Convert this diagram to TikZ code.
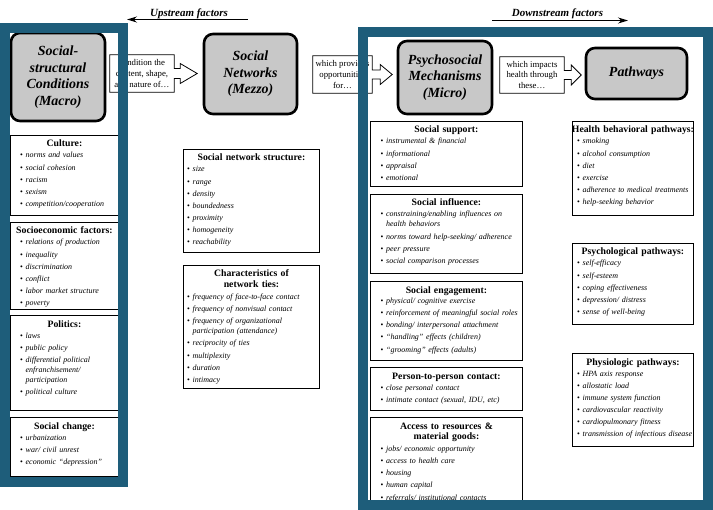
\documentclass[tikz,border=0pt]{standalone}
\usepackage{fontspec}
\setmainfont{Liberation Serif}
\usetikzlibrary{arrows.meta,calc}
\definecolor{frameblue}{RGB}{30,93,122}
\definecolor{hdrgray}{RGB}{200,200,200}
\newif\iffirstitm
\newcommand{\itm}[1]{\iffirstitm\global\firstitmfalse\else\par\fi\noindent\hangindent=5.5bp\hangafter=1\makebox[5.5bp][l]{\textbullet}\textit{#1}}
\tikzset{
  every node/.style={inner sep=0pt},
  hdr/.style={draw, line width=2.6bp, rounded corners=9bp, fill=hdrgray, align=center,
    font=\fontsize{14}{16.5}\selectfont\bfseries\itshape},
  callout/.style={align=center, font=\fontsize{8.8}{11}\selectfont},
  callarrow/.style={draw, line width=0.8bp},
  cbox/.style={draw, line width=0.9bp, fill=white, anchor=north west},
  ctitle/.style={anchor=base, align=center, font=\fontsize{9.8}{11}\selectfont\bfseries},
  citems/.style={anchor=base west, align=left, text width=250bp,
    font=\fontsize{8}{10}\selectfont, execute at begin node={\setlength{\parskip}{2.2bp}\global\firstitmtrue}},
  flow/.style={anchor=base, font=\fontsize{11}{13}\selectfont\bfseries\itshape},
  flowline/.style={line width=1.1bp, -{Stealth[length=10bp,width=6bp]}},
  frame/.style={draw=frameblue, line width=10bp},
}
% name, x1, y1, x2, y2, bullet offset, title, items offset, items
\newcommand{\Cbox}[9]{%
  \node[cbox, minimum width={(#4-#2)*1bp}, minimum height={(#5-#3)*1bp}] (#1) at (#2,#3) {};
  \node[ctitle, text width={(#4-#2+20)*1bp}] (#1-t) at ($(#1.north)+(0,12)$) {#7};
  \node[citems] (#1-i) at ($(#1.north west)+(#6,#8)$) {#9};
}
% name, shaft half, shaft length, head half, head length
\newcommand{\Barrow}[5]{%
  \draw[callarrow] (#1.north west) -- (#1.north east) -- ($(#1.east)+(0,-#2)$)
    -- ($(#1.east)+(#3,-#2)$) -- ($(#1.east)+(#3,-#4)$) -- ($(#1.east)+(#3+#5,0)$)
    -- ($(#1.east)+(#3,#4)$) -- ($(#1.east)+(#3,#2)$) -- ($(#1.east)+(0,#2)$)
    -- (#1.south east) -- (#1.south west) -- cycle;
}
\begin{document}
\begin{tikzpicture}[x=1bp,y=-1bp]
\useasboundingbox[fill=white] (0,0) rectangle (713,510);

% flow labels
\node[flow] (upt) at (189,16.5) {Upstream factors};
\coordinate (upA) at (248,19.5);
\coordinate (upB) at (127,19.5);
\draw[flowline] (upA) -- (upB);
\node[flow] (dnt) at (557.5,16.5) {Downstream factors};
\coordinate (dnA) at (492,20.5);
\coordinate (dnB) at (628,20.5);
\draw[flowline] (dnA) -- (dnB);

% header boxes
\node[hdr, minimum width=94bp, minimum height=88bp] (macro) at (58,77) {Social-\\structural\\Conditions\\(Macro)};
\node[hdr, minimum width=93bp, minimum height=80bp] (mezzo) at (250.5,74) {Social\\Networks\\(Mezzo)};
\node[hdr, minimum width=94bp, minimum height=73bp] (micro) at (445,77.5) {Psychosocial\\Mechanisms\\(Micro)};
\node[hdr, minimum width=101bp, minimum height=51bp] (path) at (636.5,73.5) {Pathways};

% callout arrows
\node[callout, minimum width=64bp, minimum height=37bp] (c1) at (142,73.5) {condition the\\content, shape,\\and nature of…};
\Barrow{c1}{5}{6}{10}{17}
\node[callout, minimum width=59bp, minimum height=37bp] (c2) at (342.5,74.5) {which provides\\opportunities\\for…};
\Barrow{c2}{4.5}{8}{10}{12}
\node[callout, minimum width=64bp, minimum height=36bp] (c3) at (532,75) {which impacts\\health through\\these…};
\Barrow{c3}{4.5}{7}{10}{10}

% macro column
\Cbox{cult}{10}{135}{118}{215}{10}{Culture:}{23}{\itm{norms and values}\itm{social cohesion}\itm{racism}\itm{sexism}\itm{competition/cooperation}}
\Cbox{socio}{10}{222}{118}{309}{10}{Socioeconomic factors:}{23}{\itm{relations of production}\itm{inequality}\itm{discrimination}\itm{conflict}\itm{labor market structure}\itm{poverty}}
\Cbox{pol}{10}{315}{118}{410}{10}{Politics:}{23}{\itm{laws}\itm{public policy}\itm{differential political\newline enfranchisement/\newline participation}\itm{political culture}}
\Cbox{chg}{10}{417}{118}{476}{10}{Social change:}{23}{\itm{urbanization}\itm{war/ civil unrest}\itm{economic ``depression''}}

% mezzo column
\Cbox{sns}{183}{149}{319}{252}{4}{Social network structure:}{23}{\itm{size}\itm{range}\itm{density}\itm{boundedness}\itm{proximity}\itm{homogeneity}\itm{reachability}}
\Cbox{ties}{183}{265}{319}{388}{4}{Characteristics of\\network ties:}{34.5}{\itm{frequency of face-to-face contact}\itm{frequency of nonvisual contact}\itm{frequency of organizational\newline participation (attendance)}\itm{reciprocity of ties}\itm{multiplexity}\itm{duration}\itm{intimacy}}

% micro column
\Cbox{supp}{370}{121}{522}{186}{10.5}{Social support:}{23}{\itm{instrumental \& financial}\itm{informational}\itm{appraisal}\itm{emotional}}
\Cbox{infl}{370}{194}{522}{273}{10.5}{Social influence:}{23}{\itm{constraining/enabling influences on\newline health behaviors}\itm{norms toward help-seeking/ adherence}\itm{peer pressure}\itm{social comparison processes}}
\Cbox{eng}{370}{281}{522}{360}{10.5}{Social engagement:}{22.5}{\itm{physical/ cognitive exercise}\itm{reinforcement of meaningful social roles}\itm{bonding/ interpersonal attachment}\itm{``handling'' effects (children)}\itm{``grooming'' effects (adults)}}
\Cbox{cont}{370}{367}{522}{410}{10.5}{Person-to-person contact:}{23}{\itm{close personal contact}\itm{intimate contact (sexual, IDU, etc)}}
\Cbox{acc}{370}{417}{522}{510}{10.5}{Access to resources \&\\material goods:}{34.5}{\itm{jobs/ economic opportunity}\itm{access to health care}\itm{housing}\itm{human capital}\itm{referrals/ institutional contacts}}

% pathways column
\Cbox{hb}{572}{121}{693}{215}{5}{Health behavioral pathways:}{23}{\itm{smoking}\itm{alcohol consumption}\itm{diet}\itm{exercise}\itm{adherence to medical treatments}\itm{help-seeking behavior}}
\Cbox{psy}{572}{243}{693}{324}{5}{Psychological pathways:}{23}{\itm{self-efficacy}\itm{self-esteem}\itm{coping effectiveness}\itm{depression/ distress}\itm{sense of well-being}}
\Cbox{phy}{572}{353}{693}{446}{5}{Physiologic pathways:}{23}{\itm{HPA axis response}\itm{allostatic load}\itm{immune system function}\itm{cardiovascular reactivity}\itm{cardiopulmonary fitness}\itm{transmission of infectious disease}}

% frames
\draw[frame] (5,28) rectangle (123,482);
\draw[frame] (363,32) rectangle (708,505);
\end{tikzpicture}
\end{document}
